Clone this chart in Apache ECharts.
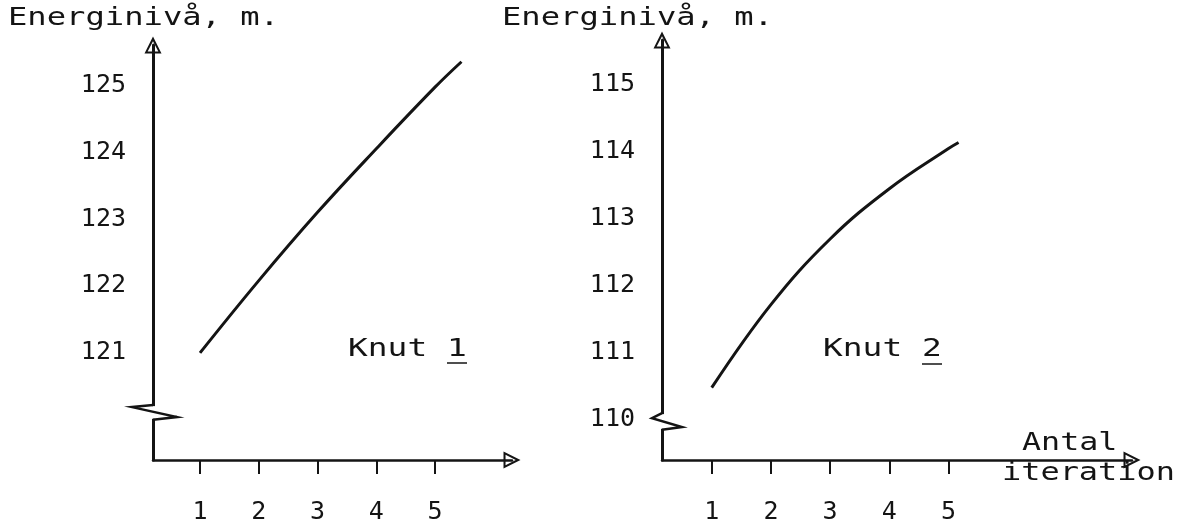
<!DOCTYPE html>
<html><head><meta charset="utf-8">
<script src="https://cdn.jsdelivr.net/npm/echarts@6/dist/echarts.min.js"></script>
<style>html,body{margin:0;padding:0;background:#fff}#c{width:1195px;height:531px}</style>
</head><body><div id="c"></div>
<script>
// ---- data ----
const iterations1 = [1, 2, 3, 4, 5, 5.45];
const energy1 = [121.0, 122.08, 123.1, 124.05, 124.97, 125.35];
const iterations2 = [1, 2, 3, 4, 5, 5.17];
const energy2 = [110.48, 111.72, 112.7, 113.45, 114.05, 114.14];
const xTicks = [1, 2, 3, 4, 5];
const yTicks1 = [121, 122, 123, 124, 125];
const yTicks2 = [110, 111, 112, 113, 114, 115];
const yTitle = 'Energinivå, m.';
const panelNames = ['Knut 1', 'Knut 2'];
const xNameLines = ['Antal', 'iteration'];
const breaks1 = [120.22, 120.0];
const breaks2 = [110.1, 109.85];

// ---- style ----
const FONT = '"DejaVu Sans Mono", monospace';
const ink = '#141414';
const arrowPath = 'path://M10,0 L20,20 L0,20 Z M10,5.6 L3.7,17.6 L16.3,17.6 Z';

function pairs(xs, ys) { return xs.map((x, i) => [x, ys[i]]); }

const chart = echarts.init(document.getElementById('c'));

function xAxisCfg(grid, min, max) {
  return {
    gridIndex: grid, type: 'value', min: min, max: max,
    axisLine: { onZero: false, symbol: ['none', arrowPath], symbolSize: [17, 18], lineStyle: { color: ink, width: 2.5 } },
    axisTick: { show: true, customValues: xTicks, length: 14, lineStyle: { color: ink, width: 2 } },
    axisLabel: { customValues: xTicks, margin: 40, color: ink, fontFamily: FONT, fontSize: 25 },
    splitLine: { show: false }
  };
}
function yAxisCfg(grid, min, max, ticks) {
  return {
    gridIndex: grid, type: 'value', min: min, max: max,
    axisLine: { onZero: false, symbol: ['none', arrowPath], symbolSize: [19, 17], lineStyle: { color: ink, width: 3 } },
    axisTick: { show: false },
    axisLabel: { customValues: ticks, margin: 27, color: ink, fontFamily: FONT, fontSize: 25 },
    splitLine: { show: false }
  };
}

chart.setOption({
  animation: false,
  backgroundColor: '#ffffff',
  grid: [
    { left: 153, top: 45, width: 359, height: 415 },
    { left: 662, top: 40, width: 470, height: 420 }
  ],
  xAxis: [xAxisCfg(0, 0.2, 6.31), xAxisCfg(1, 0.16, 8.1)],
  yAxis: [yAxisCfg(0, 119.4, 125.6, yTicks1), yAxisCfg(1, 109.4, 115.67, yTicks2)],
  series: [
    { type: 'line', xAxisIndex: 0, yAxisIndex: 0, data: pairs(iterations1, energy1), smooth: 0.4, symbol: 'none', lineStyle: { color: ink, width: 3 } },
    { type: 'line', xAxisIndex: 1, yAxisIndex: 1, data: pairs(iterations2, energy2), smooth: 0.4, symbol: 'none', lineStyle: { color: ink, width: 3 } }
  ]
});

function txt(text, x, y, scale) {
  return { type: 'text', x: x, y: y, scaleX: scale, z: 60,
    style: { text: text, font: '24px ' + FONT, fill: ink, align: 'left', verticalAlign: 'middle', textAlign: 'left', textVerticalAlign: 'middle' } };
}
function zigzag(grid, xMin, vals, dl, dr, dTop, dMid) {
  const top = chart.convertToPixel({ gridIndex: grid }, [xMin, vals[0]]);
  const bot = chart.convertToPixel({ gridIndex: grid }, [xMin, vals[1]]);
  const ax = top[0];
  return [
    { type: 'rect', z: 50, shape: { x: ax - 3, y: top[1] + 1, width: 6, height: bot[1] - top[1] - 2 }, style: { fill: '#ffffff' } },
    { type: 'polyline', z: 51, shape: { points: [[ax, top[1]], [ax - dl, top[1] + dTop], [ax + dr, top[1] + dMid], [ax, bot[1]]] },
      style: { stroke: ink, lineWidth: 2.5, fill: null } }
  ];
}

const g = [];
g.push(txt(yTitle, 8, 19, 1.34));
g.push(txt(yTitle, 502, 19, 1.34));
g.push(txt(panelNames[0], 348, 350, 1.37));
g.push(txt(panelNames[1], 823, 350, 1.37));
g.push({ type: 'line', z: 60, shape: { x1: 447, y1: 363, x2: 467, y2: 363 }, style: { stroke: ink, lineWidth: 1.5 } });
g.push({ type: 'line', z: 60, shape: { x1: 922, y1: 364, x2: 942, y2: 364 }, style: { stroke: ink, lineWidth: 1.5 } });
g.push(txt(xNameLines[0], 1022, 444, 1.32));
g.push(txt(xNameLines[1], 1002, 474, 1.33));
zigzag(0, 0.2, breaks1, 21, 24, 2, 12).forEach(e => g.push(e));
zigzag(1, 0.16, breaks2, 10, 20, 5, 14).forEach(e => g.push(e));
chart.setOption({ graphic: g });
</script>
</body></html>
